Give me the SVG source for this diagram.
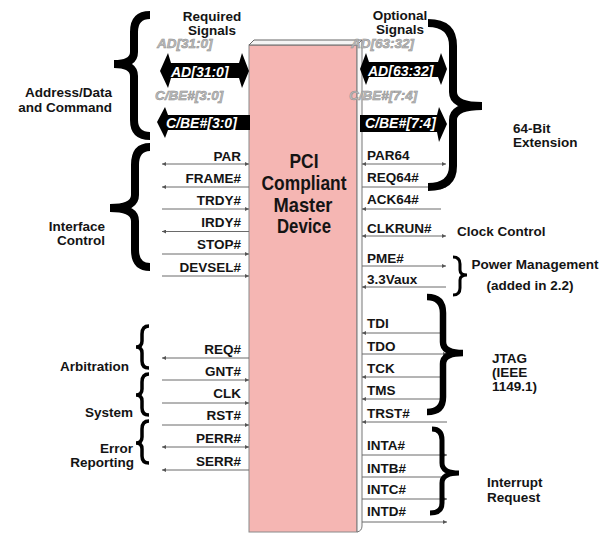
<svg xmlns="http://www.w3.org/2000/svg" width="614" height="534" viewBox="0 0 614 534">
<style>
text{font-family:"Liberation Sans",Arial,sans-serif;font-weight:bold;fill:#141414}
.lbl{font-size:13.5px}
.grp{font-size:13.5px}
.l{text-anchor:end}
.m{text-anchor:middle}
.ghost{font-size:13.5px;font-style:italic;fill:#bcbcbc;stroke:#8c8c8c;stroke-width:0.5}
.bus{font-size:14px;font-style:italic;fill:#fff}
.title{font-size:21px;text-anchor:middle}
.sig{stroke:#6a6a6a;stroke-width:1;fill:none}
.out{marker-end:url(#ah)}
.bi{marker-start:url(#ah);marker-end:url(#ah)}
.br{fill:none;stroke:#000;stroke-linejoin:miter}
</style>
<defs>
<marker id="ah" viewBox="0 0 6 6" refX="6" refY="3" markerWidth="5" markerHeight="4" markerUnits="userSpaceOnUse" orient="auto-start-reverse">
<path d="M0,0 L6,3 L0,6 Z" fill="#555"/>
</marker>
</defs>
<rect width="614" height="534" fill="#fff"/>

<g id="device">
<rect x="249" y="45" width="108" height="487" fill="#f5b6b3" stroke="#8a8a8a" stroke-width="1"/>
<polygon points="249,45 254,40 362,40 357,45" fill="#f4f4f4" stroke="#666" stroke-width="1"/>
<path d="M357,45 L362,40 L362,526 Q362,531 357,532 Z" fill="#f7f7f7" stroke="#777" stroke-width="1"/>
<text class="title" x="304" y="168" textLength="29" lengthAdjust="spacingAndGlyphs">PCI</text>
<text class="title" x="304" y="190" textLength="85" lengthAdjust="spacingAndGlyphs">Compliant</text>
<text class="title" x="303" y="212" textLength="59" lengthAdjust="spacingAndGlyphs">Master</text>
<text class="title" x="304" y="233" textLength="54" lengthAdjust="spacingAndGlyphs">Device</text>
</g>

<g id="connectors">
<line class="sig bi" x1="162" y1="164" x2="249" y2="164"/>
<line class="sig out" x1="249" y1="187" x2="162" y2="187"/>
<line class="sig out" x1="162" y1="209" x2="249" y2="209"/>
<line class="sig out" x1="249" y1="231.5" x2="162" y2="231.5"/>
<line class="sig out" x1="162" y1="254" x2="249" y2="254"/>
<line class="sig out" x1="162" y1="276" x2="249" y2="276"/>
<line class="sig out" x1="249" y1="358" x2="162" y2="358"/>
<line class="sig out" x1="162" y1="380" x2="249" y2="380"/>
<line class="sig out" x1="162" y1="403" x2="249" y2="403"/>
<line class="sig out" x1="162" y1="425" x2="249" y2="425"/>
<line class="sig bi" x1="162" y1="447" x2="249" y2="447"/>
<line class="sig out" x1="249" y1="470" x2="162" y2="470"/>
<line class="sig bi" x1="362" y1="164" x2="446" y2="164"/>
<line class="sig out" x1="362" y1="187" x2="446" y2="187"/>
<line class="sig out" x1="441" y1="209" x2="362" y2="209"/>
<line class="sig bi" x1="362" y1="236" x2="446" y2="236"/>
<line class="sig out" x1="362" y1="266" x2="446" y2="266"/>
<line class="sig out" x1="446" y1="287" x2="362" y2="287"/>
<line class="sig out" x1="440" y1="333" x2="362" y2="333"/>
<line class="sig out" x1="362" y1="354" x2="447" y2="354"/>
<line class="sig out" x1="440" y1="377" x2="362" y2="377"/>
<line class="sig out" x1="440" y1="399" x2="362" y2="399"/>
<line class="sig out" x1="447" y1="422" x2="362" y2="422"/>
<line class="sig out" x1="362" y1="455" x2="447" y2="455"/>
<line class="sig out" x1="362" y1="477" x2="447" y2="477"/>
<line class="sig out" x1="362" y1="499" x2="447" y2="499"/>
<line class="sig out" x1="362" y1="522" x2="447" y2="522"/>
<path d="M160,71 L168,53 L171,63 L239,63 L242,53 L249,71 L242,88 L239,78 L171,78 L168,88 Z" fill="#000"/>
<path d="M157,122 L165,107 L168,115 L250,115 L250,130 L168,130 L165,138 Z" fill="#000"/>
<path d="M360,69 L366,53 L369,62 L438,62 L441,53 L447,69 L441,85 L438,77 L369,77 L366,85 Z" fill="#000"/>
<path d="M360,115 L437,115 L439,107 L447,124 L439,142 L437,132 L360,132 Z" fill="#000"/>
</g>

<g id="bus-labels">
<text class="ghost" x="157" y="48">AD[31:0]</text>
<text class="ghost" x="155" y="100">C/BE#[3:0]</text>
<text class="ghost" x="351" y="48">AD[63:32]</text>
<text class="ghost" x="349" y="100">C/BE#[7:4]</text>
<text class="bus" x="171" y="77">AD[31:0]</text>
<text class="bus" x="166" y="128">C/BE#[3:0]</text>
<text class="bus" x="368" y="76">AD[63:32]</text>
<text class="bus" x="365" y="128">C/BE#[7:4]</text>
</g>

<g id="left-signals">
<text class="lbl l" x="241" y="161">PAR</text>
<text class="lbl l" x="241" y="183">FRAME#</text>
<text class="lbl l" x="241" y="205">TRDY#</text>
<text class="lbl l" x="241" y="227">IRDY#</text>
<text class="lbl l" x="241" y="249">STOP#</text>
<text class="lbl l" x="241" y="272">DEVSEL#</text>
<text class="lbl l" x="241" y="354">REQ#</text>
<text class="lbl l" x="241" y="376">GNT#</text>
<text class="lbl l" x="241" y="398">CLK</text>
<text class="lbl l" x="241" y="420">RST#</text>
<text class="lbl l" x="241" y="443">PERR#</text>
<text class="lbl l" x="241" y="466">SERR#</text>
</g>

<g id="right-signals">
<text class="lbl" x="367" y="160">PAR64</text>
<text class="lbl" x="367" y="182">REQ64#</text>
<text class="lbl" x="367" y="204">ACK64#</text>
<text class="lbl" x="367" y="233">CLKRUN#</text>
<text class="lbl" x="367" y="263">PME#</text>
<text class="lbl" x="367" y="284">3.3Vaux</text>
<text class="lbl" x="367" y="328">TDI</text>
<text class="lbl" x="367" y="351">TDO</text>
<text class="lbl" x="367" y="373">TCK</text>
<text class="lbl" x="367" y="395">TMS</text>
<text class="lbl" x="367" y="418">TRST#</text>
<text class="lbl" x="367" y="450">INTA#</text>
<text class="lbl" x="367" y="473">INTB#</text>
<text class="lbl" x="367" y="494">INTC#</text>
<text class="lbl" x="367" y="516">INTD#</text>
</g>

<g id="group-address-data">
<path class="br" stroke-width="8" d="M150,15 Q134,15 134,32 L134,52 Q134,64 114,64 Q134,64 134,76 L134,120 Q134,136 150,136"/>
<text class="grp l" x="112" y="97">Address/Data</text>
<text class="grp l" x="112" y="112">and  Command</text>
<text class="grp m" x="212" y="21">Required</text>
<text class="grp m" x="212" y="35">Signals</text>
</g>

<g id="group-interface-control">
<path class="br" stroke-width="8" d="M150,147 Q135,147 135,165 L135,195 Q135,208 110,208 Q135,208 135,221 L135,250 Q135,267 150,267"/>
<text class="grp l" x="105" y="231">Interface</text>
<text class="grp l" x="105" y="245">Control</text>
</g>

<g id="group-arbitration">
<path class="br" stroke-width="3.5" d="M149,326 Q142,326 142,334 L142,341 Q142,347 136,347 Q142,347 142,353 L142,361 Q142,368 149,368"/>
<text class="grp l" x="129" y="371">Arbitration</text>
</g>

<g id="group-system">
<path class="br" stroke-width="3.5" d="M149,374 Q142,374 142,382 L142,389 Q142,395 136,395 Q142,395 142,401 L142,408 Q142,415 149,415"/>
<text class="grp l" x="133" y="417">System</text>
</g>

<g id="group-error-reporting">
<path class="br" stroke-width="3.5" d="M149,421 Q142,421 142,429 L142,437 Q142,443 136,443 Q142,443 142,449 L142,456 Q142,463 149,463"/>
<text class="grp l" x="133" y="453">Error</text>
<text class="grp l" x="134" y="467">Reporting</text>
</g>

<g id="group-64bit">
<path class="br" stroke-width="8" d="M428,23 Q453,23 453,46 L453,92 Q453,106 482,106 Q453,106 453,120 L453,166 Q453,187 428,187"/>
<text class="grp m" x="400" y="20">Optional</text>
<text class="grp m" x="400" y="34">Signals</text>
<text class="grp" x="513" y="133">64-Bit</text>
<text class="grp" x="513" y="147">Extension</text>
</g>

<g id="group-clock-control">
<text class="grp" x="457" y="236">Clock Control</text>
</g>

<g id="group-power">
<path class="br" stroke-width="3" d="M453,257 Q460,257 460,264 L460,270 Q460,275 467,275 Q460,275 460,280 L460,288 Q460,295 453,295"/>
<text class="grp m" x="535" y="269">Power Management</text>
<text class="grp m" x="530" y="290">(added in 2.2)</text>
</g>

<g id="group-jtag">
<path class="br" stroke-width="6.5" d="M427,297 Q443,297 443,313 L443,342 Q443,353 463,353 Q443,353 443,364 L443,397 Q443,412 427,412"/>
<text class="grp" x="492" y="363">JTAG</text>
<text class="grp" x="492" y="377">(IEEE</text>
<text class="grp" x="492" y="391">1149.1)</text>
</g>

<g id="group-interrupt">
<path class="br" stroke-width="5" d="M432,429 Q442,429 442,440 L442,463 Q442,473 459,473 Q442,473 442,483 L442,503 Q442,513 430,513"/>
<text class="grp" x="487" y="487">Interrupt</text>
<text class="grp" x="487" y="502">Request</text>
</g>
</svg>
